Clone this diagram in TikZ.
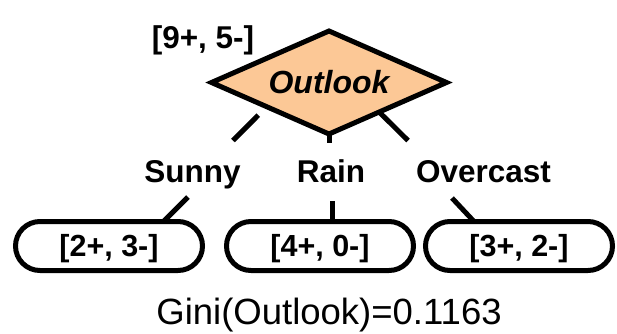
\documentclass[tikz,border=0pt]{standalone}
\usepackage{fontspec}
\setmainfont{Liberation Sans}
\usetikzlibrary{shapes.geometric,calc}
\definecolor{peach}{RGB}{252,200,150}
\begin{document}
\begin{tikzpicture}[x=1pt,y=-1pt,
  every node/.style={inner sep=0pt, outer sep=0pt},
  lbl/.style={font=\fontsize{31.5}{36}\selectfont\bfseries, text height=21.5pt, text depth=6pt, anchor=base},
  leaf/.style={draw, line width=5pt, rounded corners=24.5pt, minimum width=187pt, minimum height=49pt,
    font=\fontsize{30.5}{36}\selectfont\bfseries, text height=21.5pt, text depth=0pt},
  split/.style={diamond, draw, line width=5pt, fill=peach, aspect=2.3,
    minimum width=235pt, minimum height=103pt, font=\fontsize{32}{38}\selectfont\bfseries\itshape},
  conn/.style={line width=5pt}]
\useasboundingbox (0,0) rectangle (617,333);

% root test node and its class counts
\node[split] (d) at (329,82.5) {Outlook};
\node[lbl] (root) at (203,48) {[9+, 5-]};

% branch labels
\node[lbl] (sunny) at (192.5,182) {Sunny};
\node[lbl] (rain) at (331,182) {Rain};
\node[lbl] (over) at (483.5,182) {Overcast};

% leaves
\node[leaf] (L) at (109,246) {[2+, 3-]};
\node[leaf] (M) at (320,246) {[4+, 0-]};
\node[leaf] (R) at (519,246) {[3+, 2-]};

% branches: root -> label -> leaf
\draw[conn, shorten <=12pt] ($(d.west)!0.47!(d.south)$) -- ($(sunny.north)+(40.5,-20)$);
\draw[conn] ($(sunny.south)+(-4.5,9)$) -- ($(L.north)+(54.5,0)$);

\draw[conn] (d.south) -- ($(rain.north)+(-2,-18)$);
\draw[conn] ($(rain.south)+(1,13)$) -- ($(M.north)+(12,0)$);

\draw[conn] ($(d.east)!0.573!(d.south)$) -- ($(over.north)+(-75.5,-20)$);
\draw[conn] ($(over.south)+(-31.5,10)$) -- ($(R.north)+(-45,0)$);

% split quality
\node[font=\fontsize{36.5}{42}\selectfont, anchor=base] (gini) at (329,324) {Gini(Outlook)=0.1163};
\end{tikzpicture}
\end{document}
